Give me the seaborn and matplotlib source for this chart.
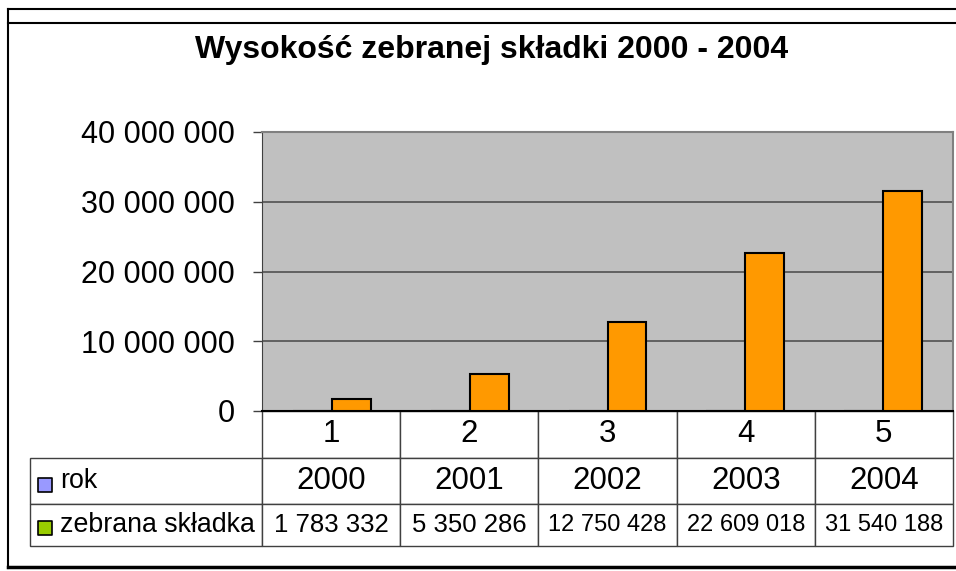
import matplotlib
matplotlib.use('Agg')
import matplotlib.pyplot as plt
import seaborn as sns
import pandas as pd
from matplotlib.lines import Line2D
from matplotlib.table import Table

# data
kategorie = ['1', '2', '3', '4', '5']
lata = [2000, 2001, 2002, 2003, 2004]
skladka = [1783332, 5350286, 12750428, 22609018, 31540188]
y_ticks = [0, 10000000, 20000000, 30000000, 40000000]
wiersze = ['rok', 'zebrana składka']
kolory_legendy = ['#9999ff', '#99cc00']


def fmt(v):
    return f'{v:,.0f}'.replace(',', ' ')


# two series like in the original sheet; "rok" is too small to be seen
df = pd.DataFrame({
    'kategoria': kategorie * 2,
    'seria': ['rok'] * 5 + ['zebrana składka'] * 5,
    'wartosc': lata + skladka,
})

plt.rcParams['font.family'] = ['Liberation Sans', 'DejaVu Sans']

W, H = 956, 571
fig = plt.figure(figsize=(W / 100, H / 100), dpi=100)
ax = fig.add_axes([262 / W, 1 - 411 / H, 691 / W, 279 / H])

sns.barplot(data=df, x='kategoria', y='wartosc', hue='seria',
            palette={'rok': '#9999ff', 'zebrana składka': '#ff9900'}, saturation=1,
            edgecolor='black', linewidth=1.5, width=0.565, legend=False, ax=ax, zorder=3)

ax.set_facecolor('#c0c0c0')
ax.set_ylim(0, 40000000)
ax.set_yticks(y_ticks)
ax.set_yticklabels([fmt(v) for v in y_ticks], fontsize=22)
ax.yaxis.grid(True, color='#5a5a5a', linewidth=1.3)
ax.set_axisbelow(True)
ax.tick_params(axis='x', bottom=False, labelbottom=False)
ax.tick_params(axis='y', length=6.5, width=1, color='#404040', pad=13)
ax.set_xlabel('')
ax.set_ylabel('')
for s in ['top', 'right']:
    ax.spines[s].set_color('#808080')
    ax.spines[s].set_linewidth(1.5)
ax.spines['left'].set_color('#404040')
ax.spines['bottom'].set_color('black')
ax.spines['bottom'].set_linewidth(1.5)

# data table below the plot
tab = Table(ax, loc='bottom')
tab.auto_set_font_size(False)
wysokosci = [47 / 279, 46 / 279, 42 / 279]
szer_kol = 1 / len(kategorie)
szer_etykiety = 232 / 691
val_sizes = [18.5, 18.5, 17, 17, 17]
for c, k in enumerate(kategorie):
    cell = tab.add_cell(0, c, width=szer_kol, height=wysokosci[0], text=k, loc='center')
    cell.get_text().set_fontsize(22.5)
wartosci = [[str(v) for v in lata], [fmt(v) for v in skladka]]
for r, (nazwa, wiersz) in enumerate(zip(wiersze, wartosci), start=1):
    cell = tab.add_cell(r, -1, width=szer_etykiety, height=wysokosci[r], text=nazwa, loc='left')
    cell.PAD = 0.13
    cell.get_text().set_fontsize(19.3)
    for c, t in enumerate(wiersz):
        cell = tab.add_cell(r, c, width=szer_kol, height=wysokosci[r], text=t, loc='center')
        cell.get_text().set_fontsize(22.5 if r == 1 else val_sizes[c])
for cell in tab.get_celld().values():
    cell.set_edgecolor('#404040')
    cell.set_linewidth(1)
ax.add_table(tab)

# legend keys in the row labels
for yk, kol in zip([-0.265, -0.419], kolory_legendy):
    ax.scatter([-0.314], [yk], transform=ax.transAxes, marker='s', s=115,
               color=kol, edgecolor='black', linewidth=1.2, clip_on=False, zorder=5)

fig.text(492 / W, 1 - 50 / H, 'Wysokość zebranej składki 2000 - 2004',
         ha='center', va='center', fontsize=23, fontweight='bold')

# frame
fig.add_artist(Line2D([8 / W, 1], [1 - 9 / H] * 2, transform=fig.transFigure, color='black', lw=1.5))
fig.add_artist(Line2D([8 / W, 1], [1 - 23 / H] * 2, transform=fig.transFigure, color='black', lw=1.5))
fig.add_artist(Line2D([8 / W] * 2, [1 - 9 / H, 1 - 568 / H], transform=fig.transFigure, color='black', lw=1.5))
fig.add_artist(Line2D([8 / W, 1], [1 - 567 / H] * 2, transform=fig.transFigure, color='black', lw=2.5))

fig.savefig('out.png', dpi=100)
